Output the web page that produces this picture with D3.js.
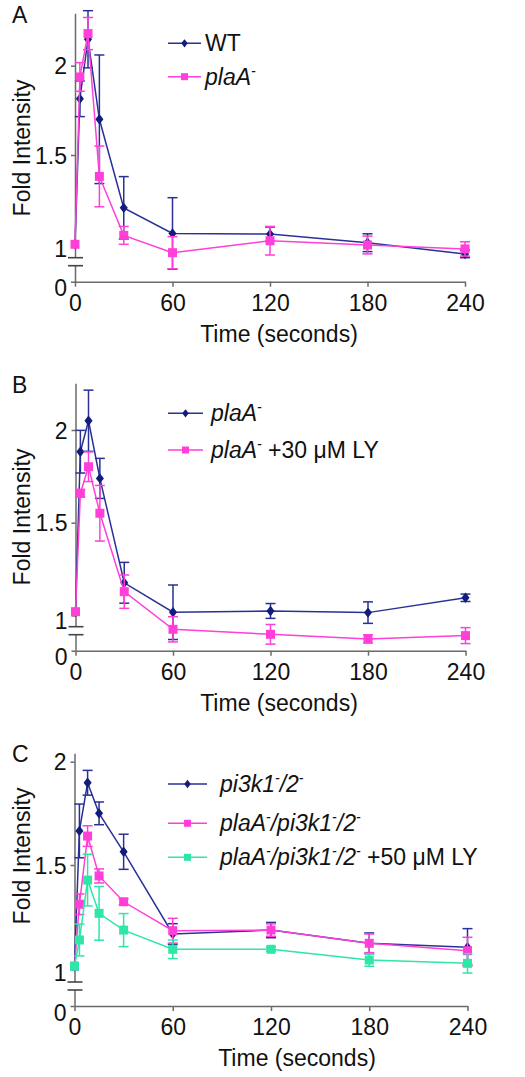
<!DOCTYPE html>
<html><head><meta charset="utf-8">
<script src="https://cdn.jsdelivr.net/npm/d3@7"></script>
<style>
body{margin:0;background:#fff}
svg text{font-family:"Liberation Sans",Arial,sans-serif;fill:#111}
</style>
</head><body>
<svg id="chart" width="525" height="1077"></svg>
<script>
// ---------------- DATA ----------------
const times = [0, 3, 8, 15, 30, 60, 120, 180, 240];
const xTickValues = [0, 60, 120, 180, 240];
const xTickLabels = ["0", "60", "120", "180", "240"];
const yTickValues = [1, 1.5, 2];
const yTickLabels = ["1", "1.5", "2"];
const xTitle = "Time (seconds)";
const yTitle = "Fold Intensity";

// Panel A
const aWT      = [1.00, 1.815, 2.148, 1.70, 1.204, 1.061, 1.057, 1.009, 0.946];
const aWTErr   = [0.00, 0.10, 0.16, 0.36, 0.175, 0.20, 0.04, 0.05, 0.021];
const aPla     = [1.00, 1.937, 2.18, 1.38, 1.05, 0.953, 1.02, 0.996, 0.974];
const aPlaErr  = [0.00, 0.08, 0.09, 0.17, 0.05, 0.09, 0.08, 0.05, 0.04];

// Panel B
const bPla     = [1.02, 1.883, 2.05, 1.739, 1.176, 1.017, 1.024, 1.015, 1.095];
const bPlaErr  = [0.00, 0.115, 0.165, 0.108, 0.11, 0.147, 0.04, 0.058, 0.02];
const bPlaLY   = [1.02, 1.659, 1.802, 1.551, 1.128, 0.925, 0.898, 0.873, 0.891];
const bPlaLYErr= [0.00, 0.02, 0.08, 0.15, 0.09, 0.068, 0.053, 0.022, 0.043];

// Panel C
const cPi3k      = [1.01, 1.665, 1.898, 1.75, 1.564, 1.166, 1.185, 1.121, 1.102];
const cPi3kErr   = [0.00, 0.13, 0.06, 0.055, 0.085, 0.05, 0.037, 0.05, 0.09];
const cPlaPi3k   = [1.01, 1.31, 1.640, 1.447, 1.322, 1.182, 1.185, 1.121, 1.085];
const cPlaPi3kErr= [0.00, 0.05, 0.05, 0.034, 0.015, 0.06, 0.03, 0.045, 0.065];
const cPlaPi3kLY = [1.01, 1.137, 1.427, 1.266, 1.185, 1.092, 1.092, 1.04, 1.024];
const cPlaPi3kLYErr=[0.00, 0.077, 0.125, 0.13, 0.08, 0.045, 0.01, 0.03, 0.047];

// Legend labels: [text, italic, superscript]
const legWT   = [["WT", false, false]];
const legPla  = [["plaA", true, false], ["-", true, true]];
const legPlaLY= [["plaA", true, false], ["-", true, true], [" +30 μM LY", false, false]];
const legPi3k = [["pi3k1", true, false], ["-", true, true], ["/2", true, false], ["-", true, true]];
const legPlaPi3k = [["plaA", true, false], ["-", true, true], ["/pi3k1", true, false], ["-", true, true], ["/2", true, false], ["-", true, true]];
const legPlaPi3kLY = [["plaA", true, false], ["-", true, true], ["/pi3k1", true, false], ["-", true, true], ["/2", true, false], ["-", true, true], [" +50 μM LY", false, false]];

// ---------------- STYLE / LAYOUT ----------------
const NAVY = {line: "#2a3196", mark: "#111c7c"};
const PINK = {line: "#ff3fd8", mark: "#ff3fd8"};
const GREEN = {line: "#2ee6a6", mark: "#2ee6a6"};

const panels = [
  { letter: "A", letterY: 23, x0: 75, x1: 465, axisY: 281.7, topY: 13.3, y1: 244.3, y2: 65.7,
    yTitleC: 148, xTitleC: 279, legX: 168, legLen: 33, legTextX: 205, legY: [43.3, 76.7],
    series: [
      {vals: aWT, err: aWTErr, col: NAVY, shape: "diamond", leg: legWT},
      {vals: aPla, err: aPlaErr, col: PINK, shape: "square", leg: legPla}
    ]},
  { letter: "B", letterY: 393, x0: 75.5, x1: 465.5, axisY: 650.7, topY: 383.3, y1: 615.4, y2: 430,
    yTitleC: 517, xTitleC: 279, legX: 168, legLen: 35, legTextX: 211, legY: [413.3, 450],
    series: [
      {vals: bPla, err: bPlaErr, col: NAVY, shape: "diamond", leg: legPla},
      {vals: bPlaLY, err: bPlaLYErr, col: PINK, shape: "square", leg: legPlaLY}
    ]},
  { letter: "C", letterY: 762, x0: 74.5, x1: 467.5, axisY: 1006, topY: 753.3, y1: 968.3, y2: 761.7,
    yTitleC: 856, xTitleC: 297, legX: 168, legLen: 39, legTextX: 220, legY: [784, 823.3, 857.3],
    series: [
      {vals: cPi3k, err: cPi3kErr, col: NAVY, shape: "diamond", leg: legPi3k},
      {vals: cPlaPi3k, err: cPlaPi3kErr, col: PINK, shape: "square", leg: legPlaPi3k},
      {vals: cPlaPi3kLY, err: cPlaPi3kLYErr, col: GREEN, shape: "square", leg: legPlaPi3kLY}
    ]}
];

const FS = 23;
const AXIS_COL = "#6a6a6a";
const svg = d3.select("#chart");

const diamondType = {
  draw(ctx, size) {
    const h = Math.sqrt(size) * 0.62, w = h * 0.78;
    ctx.moveTo(0, -h); ctx.lineTo(w, 0); ctx.lineTo(0, h); ctx.lineTo(-w, 0); ctx.closePath();
  }
};
function symbolPath(shape, size) {
  return d3.symbol().type(shape === "diamond" ? diamondType : d3.symbolSquare).size(size)();
}

function richText(g, segs, x, y) {
  const t = g.append("text").attr("x", x).attr("y", y).style("font-size", FS + "px");
  let raised = false;
  segs.forEach(([s, it, sup]) => {
    const ts = t.append("tspan").text(s).style("font-style", it ? "italic" : "normal");
    if (sup) { ts.style("font-size", "14px").attr("dy", raised ? 0 : -9); raised = true; }
    else { if (raised) ts.attr("dy", 9); raised = false; }
  });
  return t;
}

panels.forEach(p => {
  const g = svg.append("g");
  const k = (p.y1 - p.y2); // px per unit
  const v0 = 1 - (p.axisY - p.y1) / k;
  const vTop = 2 + (p.y2 - p.topY) / k;
  const x = d3.scaleLinear().domain([0, 240]).range([p.x0, p.x1]);
  const y = d3.scaleLinear().domain([v0, vTop]).range([p.axisY, p.topY]);

  // y axis
  const yAxis = d3.axisLeft(y)
    .tickValues([v0].concat(yTickValues))
    .tickSize(4).tickSizeOuter(0).tickPadding(4)
    .tickFormat(d => d === v0 ? "0" : yTickLabels[yTickValues.indexOf(d)]);
  const ya = g.append("g").attr("transform", `translate(${p.x0},0)`).call(yAxis);
  ya.selectAll("path,line").attr("stroke", AXIS_COL).attr("stroke-width", 1.5);
  ya.selectAll("text").style("font-size", FS + "px").attr("fill", "#111")
    .attr("dy", d => d === v0 ? "0.62em" : (d === 1 ? "0.55em" : "0.36em"));

  // x axis
  const xAxis = d3.axisBottom(x).tickValues(xTickValues).tickSize(5).tickSizeOuter(0).tickPadding(8)
    .tickFormat(d => xTickLabels[xTickValues.indexOf(d)]);
  const xa = g.append("g").attr("transform", `translate(0,${p.axisY})`).call(xAxis);
  xa.selectAll("path,line").attr("stroke", AXIS_COL).attr("stroke-width", 1.5);
  xa.selectAll("text").style("font-size", FS + "px").attr("fill", "#111");

  // axis break
  const bA = p.axisY - 24, bB = p.axisY - 16;
  g.append("rect").attr("x", p.x0 - 2).attr("y", bA).attr("width", 4).attr("height", bB - bA).attr("fill", "#fff");
  [bA, bB].forEach(yy => g.append("line").attr("x1", p.x0 - 7).attr("x2", p.x0 + 8)
    .attr("y1", yy).attr("y2", yy).attr("stroke", "#444").attr("stroke-width", 1.6));

  // titles
  g.append("text").attr("x", p.xTitleC).attr("y", p.axisY + 60).attr("text-anchor", "middle")
    .style("font-size", FS + "px").text(xTitle);
  g.append("text").attr("transform", `translate(30,${p.yTitleC}) rotate(-90)`).attr("text-anchor", "middle")
    .style("font-size", FS + "px").text(yTitle);
  g.append("text").attr("x", 12).attr("y", p.letterY).style("font-size", "23px").text(p.letter);

  // series
  const line = d3.line().x((d, i) => x(times[i])).y(d => y(d));
  p.series.forEach((s, si) => {
    const sg = g.append("g");
    // error bars
    s.vals.forEach((v, i) => {
      const e = s.err[i];
      if (!e) return;
      const cx = x(times[i]);
      sg.append("line").attr("x1", cx).attr("x2", cx).attr("y1", y(v - e)).attr("y2", y(v + e))
        .attr("stroke", s.col.line).attr("stroke-width", 1.5);
      [v - e, v + e].forEach(vv => sg.append("line").attr("x1", cx - 5).attr("x2", cx + 5)
        .attr("y1", y(vv)).attr("y2", y(vv)).attr("stroke", s.col.line).attr("stroke-width", 1.5));
    });
    sg.append("path").datum(s.vals).attr("d", line).attr("fill", "none")
      .attr("stroke", s.col.line).attr("stroke-width", 1.5);
    sg.selectAll("path.m").data(s.vals).join("path").attr("class", "m")
      .attr("transform", (d, i) => `translate(${x(times[i])},${y(d)})`)
      .attr("d", symbolPath(s.shape, s.shape === "diamond" ? 70 : 81))
      .attr("fill", s.col.mark);

    // legend
    const ly = p.legY[si];
    g.append("line").attr("x1", p.legX).attr("x2", p.legX + p.legLen).attr("y1", ly).attr("y2", ly)
      .attr("stroke", s.col.line).attr("stroke-width", 1.5);
    g.append("path").attr("transform", `translate(${p.legX + p.legLen / 2},${ly})`)
      .attr("d", symbolPath(s.shape, s.shape === "diamond" ? 45 : 49)).attr("fill", s.col.mark);
    richText(g, s.leg, p.legTextX, ly + 8);
  });
});
</script>
</body></html>
